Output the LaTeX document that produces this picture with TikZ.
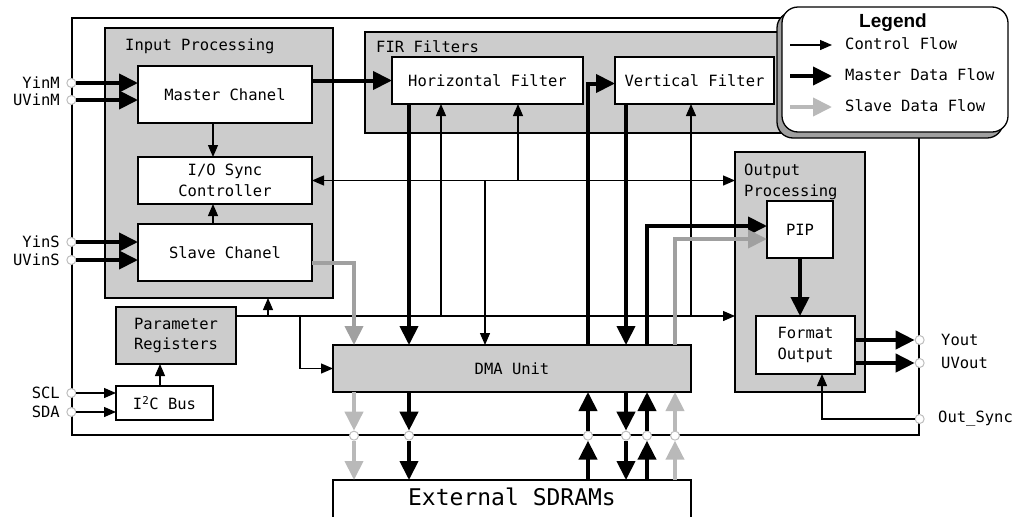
\documentclass[tikz,border=0pt]{standalone}
\usepackage{fontspec}
\setmonofont{DejaVu Sans Mono}
\setsansfont{Liberation Sans}
\usepackage{tikz}
\usetikzlibrary{arrows.meta}
\usepackage{xcolor}
\definecolor{boxgray}{RGB}{204,204,204}
\definecolor{slavegray}{RGB}{160,160,160}
\definecolor{lightslave}{RGB}{185,185,185}
\definecolor{portgray}{RGB}{190,190,190}
\definecolor{shadowgray}{RGB}{160,160,160}

\begin{document}
\begin{tikzpicture}[x=1pt, y=-1pt, font=\ttfamily\fontsize{15.5}{20.5}\selectfont,
    blk/.style={draw, fill=white, line width=1.3pt, align=center, inner sep=2pt, outer sep=0pt},
    grp/.style={blk, fill=boxgray},
    ctrl/.style={line width=1.3pt, -{Triangle[length=12pt,width=10pt]}},
    mflow/.style={line width=4pt, -{Triangle[length=19pt,width=18pt]}},
    sflow/.style={mflow, draw=slavegray},
    port/.style={circle, draw=portgray, fill=white, line width=1pt, inner sep=0pt, minimum size=9pt},
    grplbl/.style={anchor=north west, inner sep=0pt, align=left}]
    \useasboundingbox (0,0) rectangle (1018,517);

    % chip outline
    \node[draw, line width=1.3pt, minimum width=847pt, minimum height=417pt] (chip) at (495.5,226.5) {};

    % processing groups
    \node[grp, minimum width=228pt, minimum height=270pt] (ip) at (219,163) {};
    \node[grplbl] (iplbl) at ([xshift=20pt,yshift=-11pt]ip.north west) {Input Processing};
    \node[grp, minimum width=435pt, minimum height=101pt] (fir) at (582.5,82.5) {};
    \node[grplbl] (firlbl) at ([xshift=11pt,yshift=-8pt]fir.north west) {FIR Filters};
    \node[grp, minimum width=130pt, minimum height=240pt] (op) at (800,272) {};
    \node[grplbl] (oplbl) at ([xshift=9pt,yshift=-12pt]op.north west) {Output\\Processing};

    % blocks
    \node[blk, minimum width=174pt, minimum height=57pt] (mc) at (225,94.5) {Master Chanel};
    \node[blk, minimum width=174pt, minimum height=47pt] (io) at (225,180.5) {I/O Sync\\Controller};
    \node[blk, minimum width=174pt, minimum height=57pt] (sc) at (225,252.5) {Slave Chanel};
    \node[blk, minimum width=191pt, minimum height=47pt] (hf) at (487.5,80.5) {Horizontal Filter};
    \node[blk, minimum width=159pt, minimum height=47pt] (vf) at (694.5,80.5) {Vertical Filter};
    \node[grp, minimum width=358pt, minimum height=47pt] (dma) at (512,368.5) {DMA Unit};
    \node[grp, minimum width=120pt, minimum height=57pt] (pr) at (176,335.5) {Parameter\\Registers};
    \node[blk, minimum width=97pt, minimum height=34pt] (i2c) at (164.5,403) {I\textsuperscript{2}C Bus};
    \node[blk, minimum width=66pt, minimum height=57pt] (pip) at (800,229.5) {PIP};
    \node[blk, minimum width=99pt, minimum height=58pt] (fo) at (805.5,345) {Format\\Output};
    \node[blk, anchor=north, minimum width=358pt, text height=21pt, text depth=30pt, inner ysep=4pt,
          font=\ttfamily\fontsize{23}{25}\selectfont] (sdram) at (512,480) {External SDRAMs};

    % pins
    \node[port, label={[label distance=3pt]left:YinM}] (yinm) at (chip.west |- 0,83) {};
    \node[port, label={[label distance=3pt]left:UVinM}] (uvinm) at (chip.west |- 0,100) {};
    \node[port, label={[label distance=3pt]left:YinS}] (yins) at (chip.west |- 0,242) {};
    \node[port, label={[label distance=3pt]left:UVinS}] (uvins) at (chip.west |- 0,260) {};
    \node[port, label={[label distance=3pt]left:SCL}] (scl) at (chip.west |- 0,393) {};
    \node[port, label={[label distance=3pt]left:SDA}] (sda) at (chip.west |- 0,412) {};
    \node[port, label={[label distance=13pt]right:Yout}] (yout) at (chip.east |- 0,340) {};
    \node[port, label={[label distance=13pt]right:UVout}] (uvout) at (chip.east |- 0,363) {};
    \node[port, label={[label distance=10pt]right:Out\_Sync}] (osync) at (chip.east |- 0,419) {};
    \node[port] (dq1) at (chip.south -| 354,0) {};
    \node[port] (dq2) at (chip.south -| 409,0) {};
    \node[port] (dq3) at (chip.south -| 588,0) {};
    \node[port] (dq4) at (chip.south -| 626,0) {};
    \node[port] (dq5) at (chip.south -| 647,0) {};
    \node[port] (dq6) at (chip.south -| 675,0) {};

    % control paths
    \coordinate (busB) at (pr.east |- 0,316);
    \draw[ctrl] (mc.south -| 213,0) -- (io.north -| 213,0);
    \draw[ctrl] (sc.north -| 213,0) -- (io.south -| 213,0);
    \draw[ctrl, {Triangle[length=12pt,width=10pt]}-{Triangle[length=12pt,width=10pt]}] (io.east) -- (op.west |- io.east);
    \draw[ctrl] (io.east -| 518,0) -- (hf.south -| 518,0);
    \draw[ctrl] (io.east -| 485,0) -- (dma.north -| 485,0);
    \draw[ctrl] (busB) -- (op.west |- busB);
    \draw[ctrl] (busB -| 268,0) -- (ip.south -| 268,0);
    \draw[ctrl] (busB -| 441,0) -- (hf.south -| 441,0);
    \draw[ctrl] (busB -| 691,0) -- (vf.south -| 691,0);
    \draw[ctrl] (busB -| 300,0) |- (dma.west);
    \draw[ctrl] (i2c.north -| 160,0) -- (pr.south -| 160,0);
    \draw[ctrl] (scl) -- (scl -| i2c.west);
    \draw[ctrl] (sda) -- (sda -| i2c.west);
    \draw[ctrl] (osync) -| (fo.south -| 822,0);

    % master data
    \draw[mflow] (yinm) -- (yinm -| mc.west);
    \draw[mflow] (uvinm) -- (uvinm -| mc.west);
    \draw[mflow] (yins) -- (yins -| sc.west);
    \draw[mflow] (uvins) -- (uvins -| sc.west);
    \draw[mflow] (mc.east |- hf.west) -- (hf.west);
    \draw[mflow] (hf.south -| 409,0) -- (dma.north -| 409,0);
    \draw[mflow] (vf.south -| 626,0) -- (dma.north -| 626,0);
    \draw[mflow] (dma.north -| 588,0) |- ([yshift=-3pt]vf.west);
    \draw[mflow] (dma.north -| 647,0) |- (pip.west |- 0,226);
    \draw[mflow] (pip.south) -- (pip.south |- fo.north);
    \draw[mflow] (fo.east |- yout) -- (yout);
    \draw[mflow] (fo.east |- uvout) -- (uvout);

    % slave data
    \draw[sflow] (sc.east |- 0,263) -| (dma.north -| 354,0);
    \draw[sflow] (dma.north -| 675,0) |- (pip.west |- 0,239);

    % memory bus
    \draw[sflow, draw=lightslave] (dma.south -| dq1) -- (dq1.north);
    \draw[sflow, draw=lightslave] (dq1.south) -- (sdram.north -| dq1);
    \draw[mflow] (dma.south -| dq2) -- (dq2.north);
    \draw[mflow] (dq2.south) -- (sdram.north -| dq2);
    \draw[mflow] (sdram.north -| dq3) -- (dq3.south);
    \draw[mflow] (dq3.north) -- (dma.south -| dq3);
    \draw[mflow] (dma.south -| dq4) -- (dq4.north);
    \draw[mflow] (dq4.south) -- (sdram.north -| dq4);
    \draw[mflow] (sdram.north -| dq5) -- (dq5.south);
    \draw[mflow] (dq5.north) -- (dma.south -| dq5);
    \draw[sflow, draw=lightslave] (sdram.north -| dq6) -- (dq6.south);
    \draw[sflow, draw=lightslave] (dq6.north) -- (dma.south -| dq6);

    % legend
    \draw[line width=1.3pt, fill=shadowgray, rounded corners=16pt] (777,12) rectangle (1003,138);
    \node[draw, fill=white, line width=1.3pt, rounded corners=16pt, minimum width=226pt, minimum height=125pt] (legend) at (895,69.5) {};
    \node[font=\sffamily\bfseries\fontsize{19}{20}\selectfont] (legtitle) at (893,23) {Legend};
    \node[anchor=west, inner sep=0pt] (legctrl) at (845,44) {Control Flow};
    \node[anchor=west, inner sep=0pt] (legmaster) at (845,75) {Master Data Flow};
    \node[anchor=west, inner sep=0pt] (legslave) at (845,106) {Slave Data Flow};
    \draw[ctrl] ([xshift=-55pt]legctrl.west |- 0,45) -- ([xshift=-13pt]legctrl.west |- 0,45);
    \draw[mflow] ([xshift=-55pt]legmaster.west |- 0,76) -- ([xshift=-13pt]legmaster.west |- 0,76);
    \draw[mflow, draw=lightslave] ([xshift=-55pt]legslave.west |- 0,107) -- ([xshift=-13pt]legslave.west |- 0,107);
\end{tikzpicture}
\end{document}
